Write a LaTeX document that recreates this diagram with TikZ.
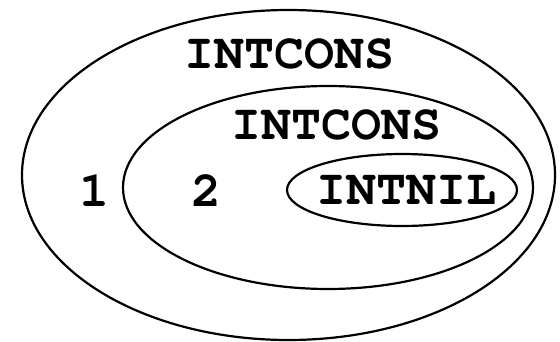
\documentclass[tikz,border=0pt]{standalone}
\usepackage[T1]{fontenc}
\begin{document}
\begin{tikzpicture}[x=1pt,y=1pt,
  ring/.style={draw=black,line width=2.2pt},
  lbl/.style={inner sep=0pt,font=\fontencoding{T1}\fontfamily{pcr}\bfseries\fontsize{50}{60}\selectfont}]
\useasboundingbox (0,0) rectangle (560,341);
\draw[ring] (288.5,166) ellipse [x radius=266.5, y radius=165];
\draw[ring] (328,153.5) ellipse [x radius=205, y radius=101.5];
\draw[ring] (402,151) ellipse [x radius=115, y radius=36];
\node[lbl] (outer) at (289,287) {INTCONS};
\node[lbl] (middle) at (336,216) {INTCONS};
\node[lbl] (one) at (94,150) {1};
\node[lbl] (two) at (206,150) {2};
\node[lbl] (nil) at (406,150) {INTNIL};
\end{tikzpicture}
\end{document}
